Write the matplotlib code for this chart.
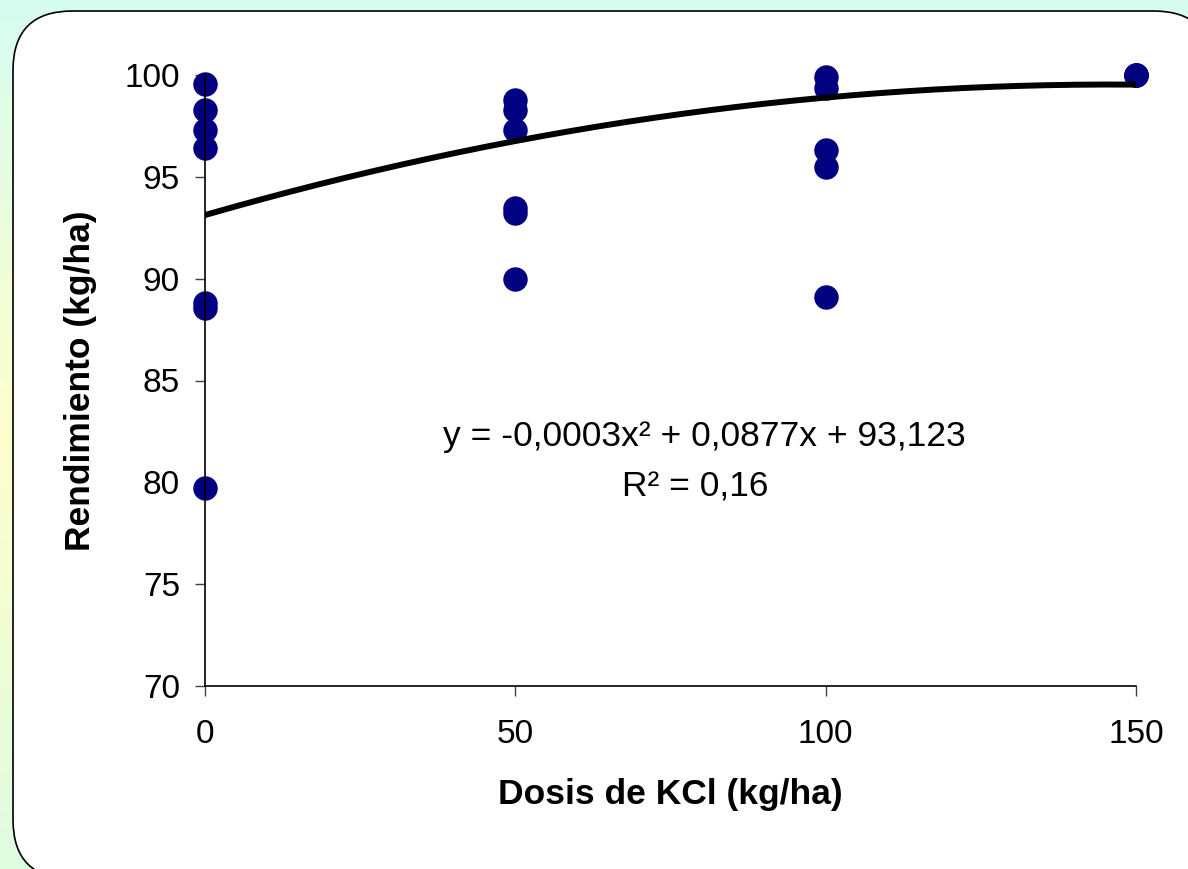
import numpy as np
import matplotlib.pyplot as plt
from matplotlib.patches import FancyBboxPatch

plt.rcParams['font.family'] = ['Liberation Sans', 'DejaVu Sans']

# data
dosis = [0, 0, 0, 0, 0, 0, 0,
         50, 50, 50, 50, 50, 50,
         100, 100, 100, 100, 100,
         150, 150, 150]
rendimiento = [99.55, 98.3, 97.3, 96.4, 88.8, 88.55, 79.7,
               98.75, 98.3, 97.3, 93.45, 93.2, 90.0,
               99.9, 99.35, 96.3, 95.5, 89.1,
               100.0, 100.0, 100.0]

# quadratic trend line (from the equation on the chart)
coef_a = -0.0003
coef_b = 0.0877
coef_c = 93.123
eq_text = 'y = -0,0003x² + 0,0877x + 93,123'
r2_text = 'R² = 0,16'

fig = plt.figure(figsize=(11.88, 8.69), dpi=100)

# gradient background
bg = fig.add_axes([0, 0, 1, 1], zorder=-2)
bg.set_axis_off()
top = np.array([0.84, 0.99, 0.94])
mid = np.array([1.0, 1.0, 0.80])
bot = np.array([0.87, 0.99, 0.88])
t = np.linspace(0, 1, 300)[:, None]
grad = np.where(t < 0.5, top + (mid - top) * (t / 0.5), mid + (bot - mid) * ((t - 0.5) / 0.5))
bg.imshow(grad[:, None, :], aspect='auto', extent=[0, 1, 0, 1])
bg.set_xlim(0, 1)
bg.set_ylim(0, 1)

# white rounded panel
panel = FancyBboxPatch((13 / 1188, -10 / 869), 1200 / 1188, 868 / 869,
                       boxstyle='round,pad=0,rounding_size=0.05',
                       transform=fig.transFigure, facecolor='white',
                       edgecolor='black', linewidth=1.2, zorder=-1,
                       mutation_aspect=1188 / 869)
fig.patches.append(panel)

ax = fig.add_axes([205 / 1188, 1 - 686 / 869, (1136 - 205) / 1188, (686 - 75) / 869])
ax.patch.set_alpha(0)

xs = np.linspace(0, 150, 200)
ax.plot(xs, coef_a * xs ** 2 + coef_b * xs + coef_c, color='black', lw=4.3,
        solid_capstyle='round', zorder=3)
ax.scatter(dosis, rendimiento, s=310, color='#000080', zorder=2, clip_on=False,
           linewidths=0)

ax.set_xlim(0, 150)
ax.set_ylim(70, 100)
ax.set_xticks([0, 50, 100, 150])
ax.set_yticks([70, 75, 80, 85, 90, 95, 100])
ax.tick_params(axis='both', direction='out', length=7, width=1, colors='#404040',
               labelcolor='black', labelsize=24)
ax.tick_params(axis='x', pad=17)
ax.tick_params(axis='y', pad=11)
for s in ['top', 'right']:
    ax.spines[s].set_visible(False)
for s in ['left', 'bottom']:
    ax.spines[s].set_linewidth(1.2)

ax.set_xlabel('Dosis de KCl (kg/ha)', fontsize=25.5, fontweight='bold', labelpad=20)
ax.set_ylabel('Rendimiento (kg/ha)', fontsize=25.5, fontweight='bold', labelpad=20)

ax.text(0.536, 0.408, eq_text, transform=ax.transAxes, fontsize=25.5,
        ha='center', va='center')
ax.text(0.526, 0.325, r2_text, transform=ax.transAxes, fontsize=25.5,
        ha='center', va='center')

fig.savefig('out.png', dpi=100)
